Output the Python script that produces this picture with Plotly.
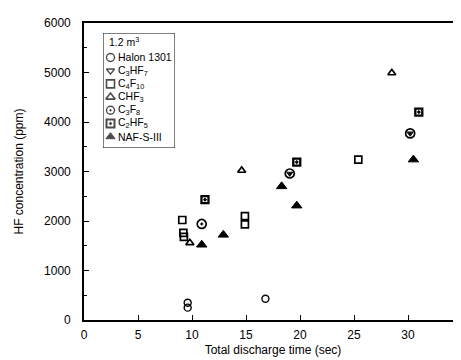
import plotly.graph_objects as go

# Data (x: total discharge time in sec, y: HF ppm)
halon_x = [9.6, 9.6, 16.8]
halon_y = [350, 250, 430]

c3hf7_x = [19.05, 30.2]
c3hf7_y = [2960, 3770]

c4f10_x = [9.1, 9.2, 9.25, 14.9, 14.9, 25.4]
c4f10_y = [2020, 1760, 1680, 2100, 1930, 3240]

chf3_x = [9.8, 14.6, 28.5]
chf3_y = [1560, 3020, 4990]

c3f8_x = [10.9, 19.05, 30.2]
c3f8_y = [1940, 2960, 3770]

c2hf5_x = [11.2, 19.7, 31.0]
c2hf5_y = [2430, 3190, 4200]

naf_x = [10.9, 12.9, 18.3, 19.7, 30.5]
naf_y = [1520, 1720, 2700, 2310, 3240]

legend_title = "1.2 m<sup>3</sup>"
names = ["Halon 1301", "C<sub>3</sub>HF<sub>7</sub>", "C<sub>4</sub>F<sub>10</sub>",
         "CHF<sub>3</sub>", "C<sub>3</sub>F<sub>8</sub>", "C<sub>2</sub>HF<sub>5</sub>", "NAF-S-III"]

xs_all = [halon_x, c3hf7_x, c4f10_x, chf3_x, c3f8_x, c2hf5_x, naf_x]
ys_all = [halon_y, c3hf7_y, c4f10_y, chf3_y, c3f8_y, c2hf5_y, naf_y]

# styles: symbol, size, line width, fill colour
styles = [
    ("circle-open", 7, 1.4, "black"),
    ("triangle-down-open", 5, 1.2, "black"),
    ("square-open", 7, 1.7, "black"),
    ("triangle-up-open", 7, 1.7, "black"),
    ("circle-open-dot", 9, 1.7, "black"),
    ("square-dot", 7, 2.3, "white"),
    ("triangle-up", 9, 1, "black"),
]

fig = go.Figure()
for name, xs, ys, (sym, size, lw, fill) in zip(names, xs_all, ys_all, styles):
    fig.add_trace(go.Scatter(
        x=xs, y=ys, mode="markers", name=name, showlegend=False,
        marker=dict(symbol=sym, size=size, color=fill,
                    line=dict(color="black", width=lw)),
        xaxis="x", yaxis="y",
    ))

# hand-drawn legend on an auxiliary pixel-like axis pair
LX0, LX1, LY0, LY1 = 95, 167, 25, 140
row0, row_h = 49.5, 13.2
sym_x, text_x = 102.5, 108
legend_sizes = [8, 7, 8, 8, 8, 8, 8]
fig.add_trace(go.Scatter(
    x=[sym_x] * len(names),
    y=[row0 + row_h * i for i in range(len(names))],
    mode="markers", showlegend=False, hoverinfo="skip",
    marker=dict(symbol=[s[0] for s in styles], size=legend_sizes,
                color=[s[3] for s in styles],
                line=dict(color="black", width=[1.4, 1.4, 1.6, 1.6, 1.4, 2.0, 1])),
    xaxis="x2", yaxis="y2",
))

lfont = dict(family="Liberation Sans, Arial, sans-serif", size=10.5, color="black")
annotations = [dict(x=sym_x - 4, y=row0 - 16, xref="x2", yref="y2", text=legend_title,
                    showarrow=False, xanchor="left", yanchor="middle", font=lfont)]
for i, n in enumerate(names):
    annotations.append(dict(x=text_x, y=row0 + row_h * i, xref="x2", yref="y2", text=n,
                            showarrow=False, xanchor="left", yanchor="middle", font=lfont))

font = dict(family="Liberation Sans, Arial, sans-serif", size=12, color="black")

fig.update_layout(
    width=461, height=360,
    margin=dict(l=76, r=7, t=15, b=48, autoexpand=False),
    paper_bgcolor="white", plot_bgcolor="white",
    font=font,
    showlegend=False,
    annotations=annotations,
    shapes=[dict(type="rect", xref="x2", yref="y2", x0=LX0, x1=LX1, y0=LY0, y1=LY1,
                 line=dict(color="black", width=1), fillcolor="rgba(0,0,0,0)", layer="below")],
    xaxis=dict(
        range=[0, 35], tickvals=[0, 5, 10, 15, 20, 25, 30, 35],
        showline=True, linecolor="black", linewidth=1.6, mirror=True,
        ticks="inside", ticklen=5, tickcolor="black", automargin=False,
        showgrid=False, zeroline=False, ticklabelstandoff=3,
        title=dict(text="Total discharge time (sec)", standoff=4, font=dict(size=12)),
        tickfont=dict(size=12),
    ),
    yaxis=dict(
        range=[0, 6000], tickvals=[0, 1000, 2000, 3000, 4000, 5000, 6000],
        showline=True, linecolor="black", linewidth=1.6, mirror=True,
        ticks="inside", ticklen=5, tickcolor="black", automargin=False,
        minor=dict(ticks="inside", ticklen=3, dtick=500, tickcolor="black"),
        showgrid=False, zeroline=False, ticklabelstandoff=9,
        title=dict(text="HF concentration (ppm)", standoff=18, font=dict(size=12)),
        tickfont=dict(size=12),
    ),
    xaxis2=dict(domain=[(LX0 - 76) / 378, (LX1 - 76) / 378], range=[LX0, LX1],
                anchor="y2", visible=False, fixedrange=True),
    yaxis2=dict(domain=[(312 - LY1) / 297, (312 - LY0) / 297], range=[LY1, LY0],
                anchor="x2", visible=False, fixedrange=True),
)

fig.write_html("out.html")
